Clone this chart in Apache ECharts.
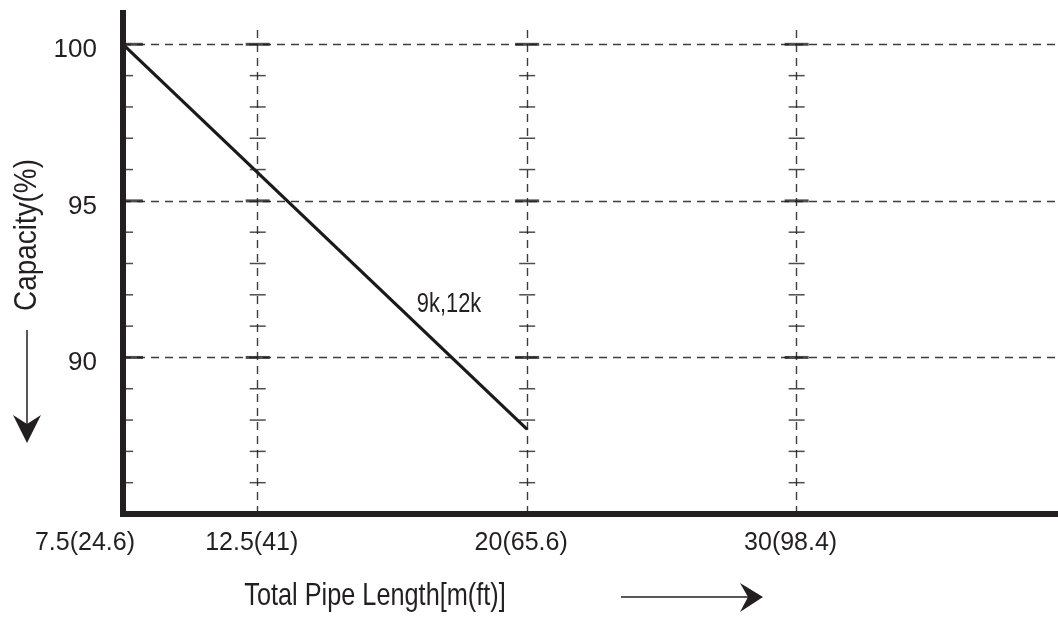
<!DOCTYPE html>
<html><head><meta charset="utf-8">
<script src="https://cdn.jsdelivr.net/npm/echarts@6/dist/echarts.min.js"></script>
<style>html,body{margin:0;padding:0;background:#fff}#c{width:1058px;height:618px}</style>
</head><body><div id="c"></div>
<script>
// ---- data ----
const lengthLabels = ['7.5(24.6)', '12.5(41)', '', '20(65.6)', '', '30(98.4)', '', '']; // one per step of the length axis
const capacityLine = [[0, 100], [3, 87.7]];          // [length step, capacity %]
const lineName = '9k,12k';
const lineNameAt = [[2.42, 91.7]];
const majorCapacity = [100, 95, 90];
const minorCapacity = [99, 98, 97, 96, 94, 93, 92, 91, 89, 88, 87, 86];
const gridSteps = [1, 3, 5];
const gridTop = 100.65;
const xMin = 0, xMax = 6.94;
const yMin = 85, yMax = 101;
const xTitle = 'Total Pipe Length[m(ft)]';
const yTitle = 'Capacity(%)';

const FONT = "'Liberation Sans',Arial,Helvetica,sans-serif";
const INK = '#231f20';
const DASH = '#3c3c3c';

const axisTickMinor = minorCapacity.map(v => [0, v]);
const axisTickMajor = majorCapacity.map(v => [0, v]);
const crossMinor = [], crossMajor = [];
gridSteps.forEach(s => {
  minorCapacity.forEach(v => crossMinor.push([s, v]));
  majorCapacity.forEach(v => crossMajor.push([s, v]));
});

const chart = echarts.init(document.getElementById('c'), null, {renderer: 'canvas'});
chart.setOption({
  animation: false,
  backgroundColor: '#fff',
  grid: {left: 123, right: 0, top: 13, bottom: 104, containLabel: false},
  xAxis: {
    type: 'value', min: xMin, max: xMax, interval: 1, z: 10,
    axisLine: {show: true, onZero: false, lineStyle: {color: INK, width: 6, cap: 'square'}},
    axisTick: {show: false},
    splitLine: {show: false},
    axisLabel: {
      margin: 17, showMaxLabel: false,
      fontFamily: FONT, fontSize: 25, color: INK,
      formatter: v => {
        const t = Number.isInteger(v) ? (lengthLabels[v] || '') : '';
        if (!t) return '';
        return v === 0 ? '{first|' + t + '}' : '{other|' + t + '}';
      },
      rich: {
        first: {fontFamily: FONT, fontSize: 25, color: INK, padding: [0, 76, 0, 0]},
        other: {fontFamily: FONT, fontSize: 25, color: INK, padding: [0, 12, 0, 0]}
      }
    }
  },
  yAxis: {
    type: 'value', min: yMin, max: yMax, interval: 5, z: 10,
    axisLine: {show: true, onZero: false, lineStyle: {color: INK, width: 6, cap: 'square'}},
    axisTick: {show: false},
    splitLine: {show: false},
    axisLabel: {
      margin: 26, fontFamily: FONT, fontSize: 26, color: INK,
      formatter: v => majorCapacity.indexOf(v) >= 0 ? '{v|' + v + '}' : '',
      rich: {v: {fontFamily: FONT, fontSize: 26, color: INK, padding: [11, 0, 0, 0]}}
    }
  },
  series: [
    {
      type: 'line', data: capacityLine, symbol: 'none', z: 5,
      lineStyle: {color: '#1a1a1a', width: 3.2},
      markLine: {
        silent: true, symbol: 'none', label: {show: false},
        lineStyle: {color: DASH, width: 1.4, type: [8, 6]},
        data: majorCapacity.map(v => ({yAxis: v})).concat(
          gridSteps.map(s => [{coord: [s, yMin]}, {coord: [s, gridTop]}]))
      }
    },
    {
      type: 'scatter', data: axisTickMinor, symbol: 'rect', symbolSize: [10, 1.5], symbolOffset: [5, 0],
      itemStyle: {color: INK}, silent: true, z: 6
    },
    {
      type: 'scatter', data: axisTickMajor, symbol: 'rect', symbolSize: [20, 3], symbolOffset: [10, 0],
      itemStyle: {color: INK}, silent: true, z: 6
    },
    {
      type: 'scatter', data: crossMinor, symbol: 'rect', symbolSize: [16, 1.5],
      itemStyle: {color: INK}, silent: true, z: 6
    },
    {
      type: 'scatter', data: crossMajor, symbol: 'rect', symbolSize: [24, 3],
      itemStyle: {color: INK}, silent: true, z: 6
    },
    {
      type: 'custom', data: lineNameAt, silent: true, z: 7,
      renderItem: (params, api) => {
        const p = api.coord([api.value(0), api.value(1)]);
        return {type: 'text', x: p[0], y: p[1], scaleX: 0.78,
          style: {text: lineName, font: '28px ' + FONT, fill: INK, align: 'center', verticalAlign: 'middle'}};
      }
    }
  ],
  graphic: [
    {type: 'text', x: 375, y: 596, scaleX: 0.79, style: {text: xTitle, font: '32px ' + FONT, fill: INK, align: 'center', verticalAlign: 'middle'}},
    {type: 'text', x: 27, y: 235, rotation: Math.PI / 2, scaleX: 0.9, style: {text: yTitle, font: '31px ' + FONT, fill: INK, align: 'center', verticalAlign: 'middle'}},
    {type: 'line', shape: {x1: 621, y1: 597, x2: 750, y2: 597}, style: {stroke: INK, lineWidth: 1.5}},
    {type: 'polygon', shape: {points: [[763, 597], [740, 583], [748, 597], [740, 612]]}, style: {fill: INK}},
    {type: 'line', shape: {x1: 27, y1: 330, x2: 27, y2: 430}, style: {stroke: INK, lineWidth: 1.5}},
    {type: 'polygon', shape: {points: [[27, 443], [13, 415], [27, 424], [41, 415]]}, style: {fill: INK}}
  ]
});
</script>
</body></html>
